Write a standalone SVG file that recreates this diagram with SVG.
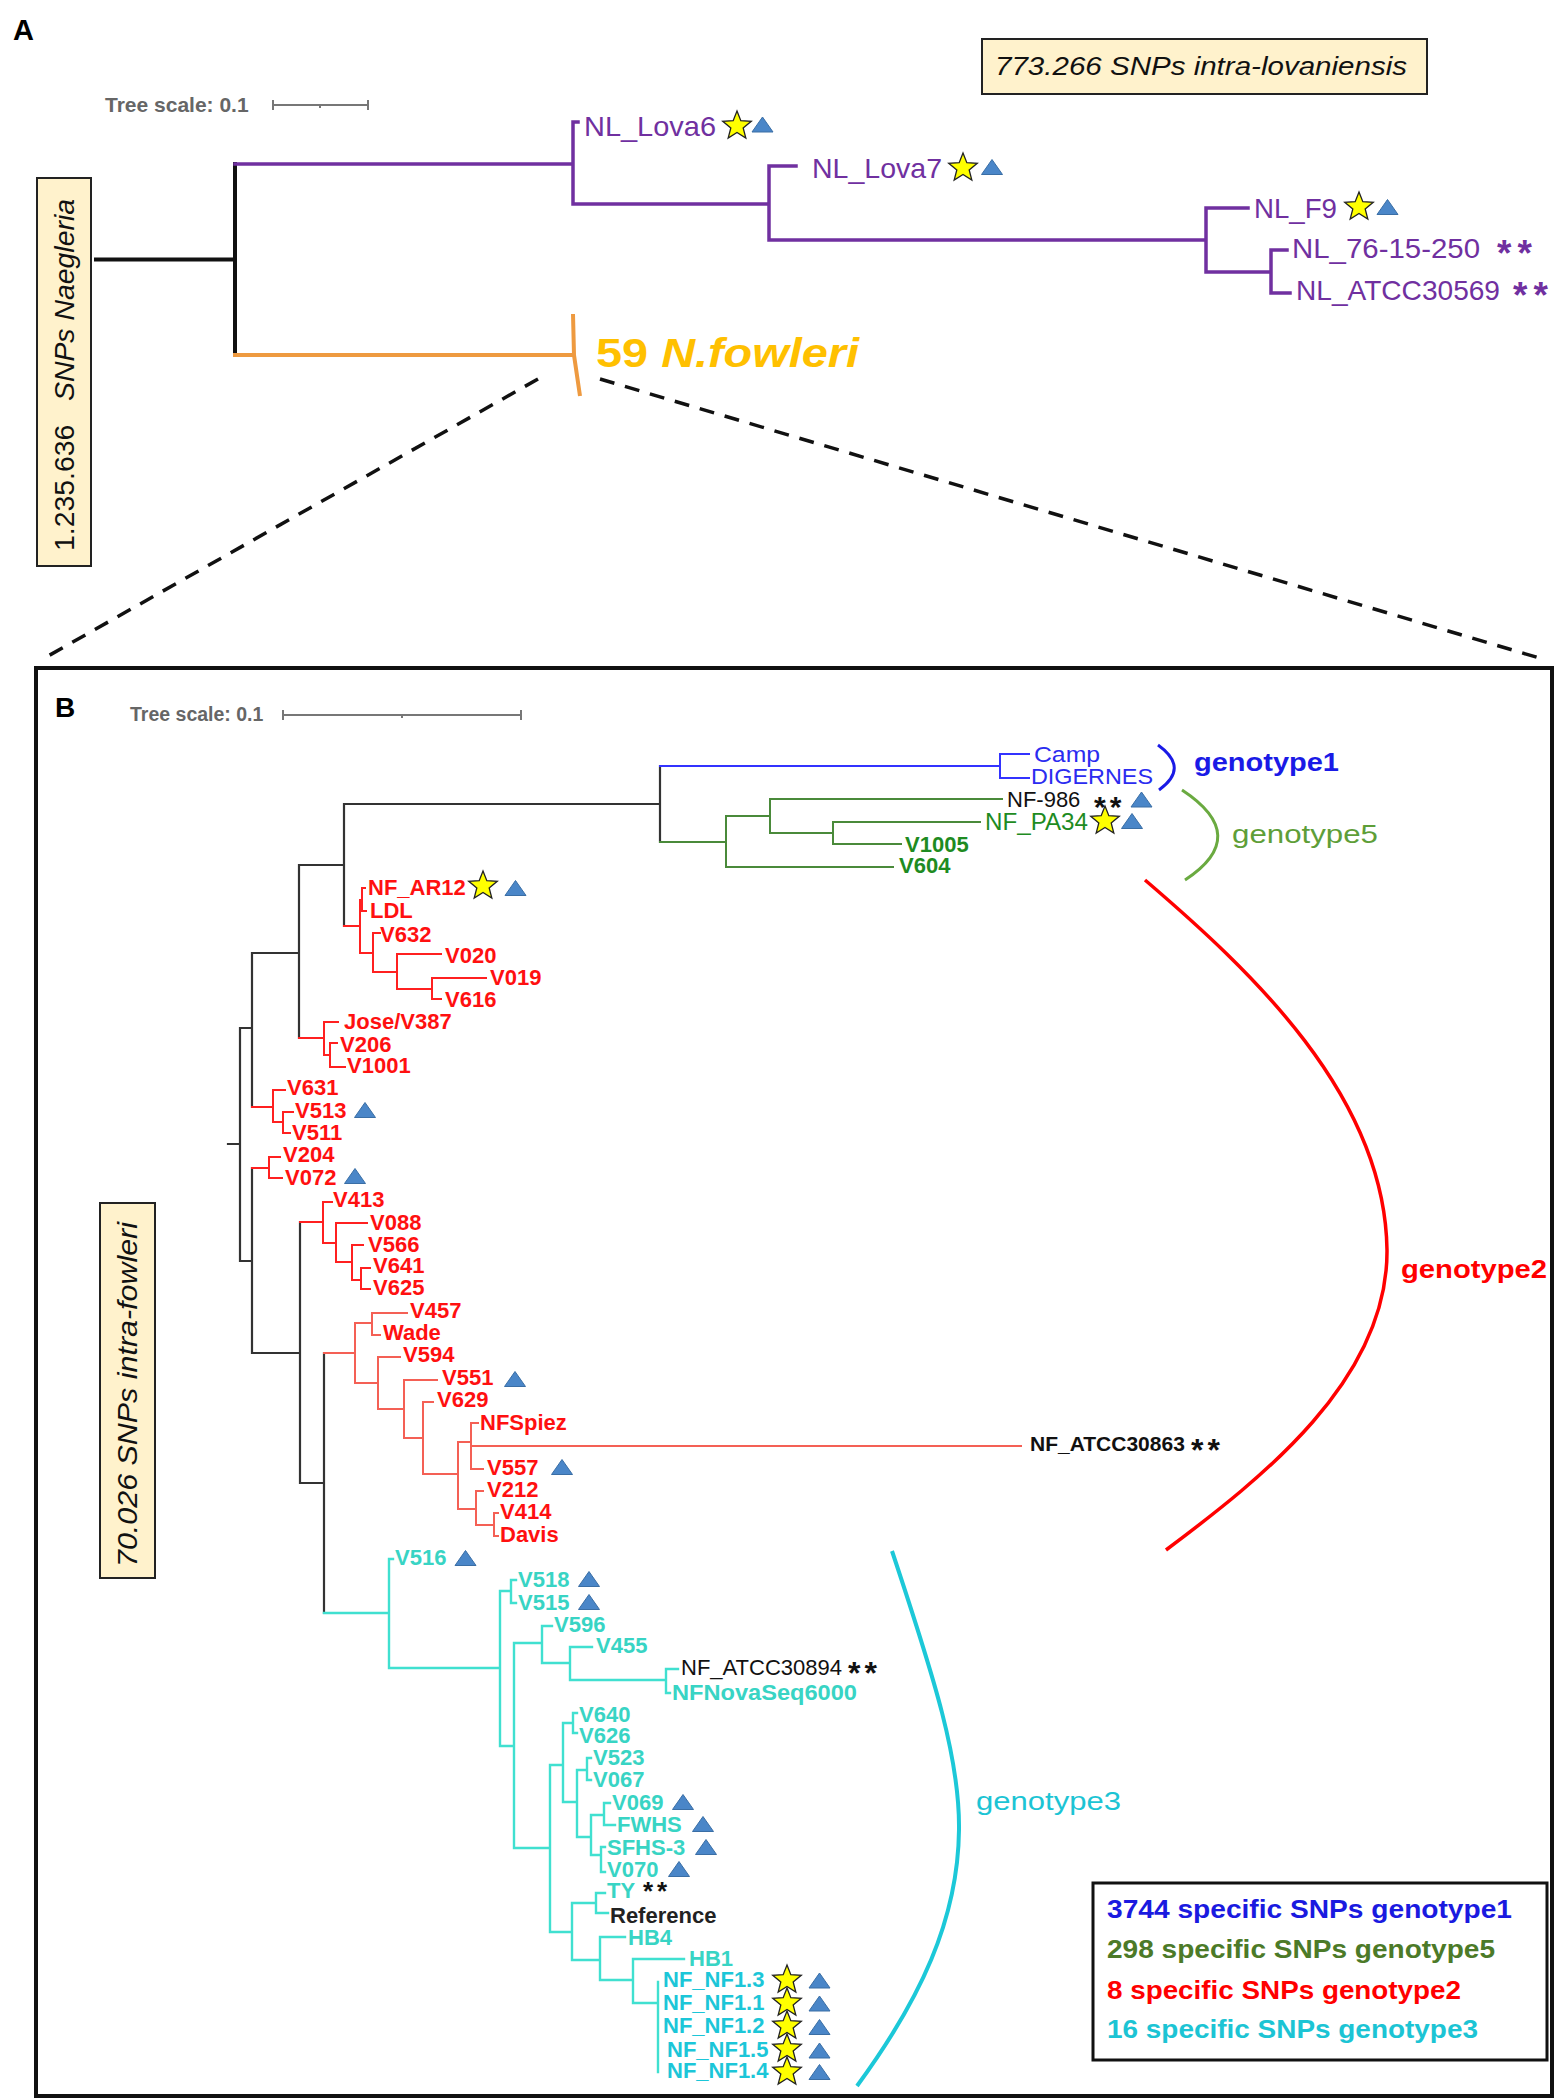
<svg xmlns="http://www.w3.org/2000/svg" xmlns:xlink="http://www.w3.org/1999/xlink" width="1562" height="2100" viewBox="0 0 1562 2100">
<defs>
<style>
text{font-family:"Liberation Sans",Arial,sans-serif}
.p{fill:none;stroke-linecap:square}
.kA{stroke:#111;stroke-width:4}
.pu{stroke:#7030A0;stroke-width:3.5}
.or{stroke:#EE9A40;stroke-width:4}
.kB{stroke:#333;stroke-width:2.2}
.rd{stroke:#FF2020;stroke-width:2}
.sa{stroke:#F46055;stroke-width:2}
.cy{stroke:#40E0D0;stroke-width:2.4}
.bl{stroke:#3333FF;stroke-width:2}
.gr{stroke:#4A8A3A;stroke-width:2}
.lA{fill:#7030A0;font-size:28px}
.lr{fill:#FF1010;font-size:22px;font-weight:bold}
.lc{fill:#38D4C4;font-size:22px;font-weight:bold}
.lc2{fill:#1CC6D8;font-size:22px;font-weight:bold}
.lk{fill:#111;font-size:22px}
.lgb{fill:#1E8B22;font-size:22px;font-weight:bold}
.lg{fill:#1E8B22;font-size:23px}
.lb{fill:#2B2BF0;font-size:22px}
.ast{font-weight:bold;letter-spacing:4px}
.scl{fill:#666;font-weight:bold}
.sbar{stroke:#777;stroke-width:2;fill:none}
.ybox{fill:#FFF2CC;stroke:#222;stroke-width:2}
.dash{stroke:#111;stroke-width:3.5;stroke-dasharray:15 11;fill:none}
</style>
<path id="star" d="M0,-15 L3.82,-5.26 L14.27,-4.64 L6.18,2.01 L8.82,12.14 L0,6.5 L-8.82,12.14 L-6.18,2.01 L-14.27,-4.64 L-3.82,-5.26 Z" fill="#FFFF00" stroke="#222" stroke-width="1.3" stroke-linejoin="miter"/>
<path id="tri" d="M-10.5,7 L0,-8 L10.5,7 Z" fill="#4A86C8" stroke="#3A6EA5" stroke-width="1"/>
</defs>
<rect x="0" y="0" width="1562" height="2100" fill="#FFFFFF"/>

<!-- ============ PANEL A ============ -->
<g id="panelA-label"><text x="13" y="40" font-size="29" font-weight="bold" fill="#000">A</text></g>
<g id="scaleA">
<text class="scl" x="105" y="112" font-size="21">Tree scale: 0.1</text>
<path class="sbar" d="M273,105 H368 M273,100 V110 M368,100 V110 M320,105 V108"/>
</g>
<g id="boxA-vertical">
<rect class="ybox" x="37" y="178" width="54" height="388"/>
<text transform="translate(74,551) rotate(-90)" font-size="27" fill="#111" textLength="352" lengthAdjust="spacingAndGlyphs">1.235.636&#160;&#160; <tspan font-style="italic">SNPs Naegleria</tspan></text>
</g>
<g id="boxA-top">
<rect class="ybox" x="982" y="39" width="445" height="55"/>
<text x="995" y="75" font-size="26" font-style="italic" fill="#111" textLength="412" lengthAdjust="spacingAndGlyphs">773.266 SNPs intra-lovaniensis</text>
</g>

<g id="connectorsA">
<path class="p kA" d="M96,259.5 H235 M235,164 V355"/>
<path class="p pu" d="M235,164 H573 M573,122 V204 M573,122 H578 M573,204 H769 M769,166 V240 M769,166 H796 M769,240 H1206 M1206,208 V272 M1206,208 H1248 M1206,272 H1271 M1271,250 V293 M1271,250 H1287 M1271,293 H1290"/>
<path class="p or" d="M235,355 H573"/>
<path d="M573,314 L574,355 L580,396" fill="none" stroke="#EE9A40" stroke-width="4"/>
<path class="dash" d="M538,379 L41,660"/>
<path class="dash" d="M600,379 L1546,660"/>
</g>

<g id="A-NL_Lova6"><text class="lA" x="584" y="136" textLength="132" lengthAdjust="spacingAndGlyphs">NL_Lova6</text><use xlink:href="#star" x="737" y="126"/><use xlink:href="#tri" x="762.5" y="125"/></g>
<g id="A-NL_Lova7"><text class="lA" x="812" y="178" textLength="130" lengthAdjust="spacingAndGlyphs">NL_Lova7</text><use xlink:href="#star" x="963" y="168"/><use xlink:href="#tri" x="992" y="167.5"/></g>
<g id="A-NL_F9"><text class="lA" x="1254" y="218" textLength="83" lengthAdjust="spacingAndGlyphs">NL_F9</text><use xlink:href="#star" x="1359" y="207"/><use xlink:href="#tri" x="1387.5" y="207.5"/></g>
<g id="A-NL_76-15-250"><text class="lA" x="1292" y="258" textLength="188" lengthAdjust="spacingAndGlyphs">NL_76-15-250</text><text x="1497" y="266" font-size="37" font-weight="bold" letter-spacing="6" fill="#7030A0">**</text></g>
<g id="A-NL_ATCC30569"><text class="lA" x="1296" y="300" textLength="204" lengthAdjust="spacingAndGlyphs">NL_ATCC30569</text><text x="1513" y="308" font-size="37" font-weight="bold" letter-spacing="6" fill="#7030A0">**</text></g>
<g id="A-fowleri"><text x="596" y="367" font-size="40" font-weight="bold" fill="#FFC000" textLength="263" lengthAdjust="spacingAndGlyphs">59 <tspan font-style="italic">N.fowleri</tspan></text></g>

<!-- ============ PANEL B ============ -->
<g id="panelB-frame"><rect x="36" y="668" width="1516" height="1428" fill="none" stroke="#111" stroke-width="4"/></g>
<g id="panelB-label"><text x="55" y="717" font-size="28" font-weight="bold" fill="#000">B</text></g>
<g id="scaleB">
<text class="scl" x="130" y="721" font-size="19.5">Tree scale: 0.1</text>
<path class="sbar" d="M283,715 H521 M283,710 V720 M521,710 V720 M402,715 V718"/>
</g>
<g id="boxB-vertical">
<rect class="ybox" x="100" y="1203" width="55" height="375"/>
<text transform="translate(137,1567) rotate(-90)" font-size="27" font-style="italic" fill="#111" textLength="345" lengthAdjust="spacingAndGlyphs">70.026 SNPs intra-fowleri</text>
</g>

<g id="connectorsB">
<path class="p kB" d="M228,1144 H240 M240,1028 V1261 M240,1028 H252 M252,953 V1107 M240,1261 H252 M252,1168 V1353 M252,953 H299 M299,865 V1038 M299,865 H344 M344,804 V926 M344,804 H660 M660,766 V842 M252,1353 H300 M300,1222 V1483 M300,1483 H324 M324,1353 V1613"/>
<path class="p bl" d="M660,766 H1000 M1000,754 V778 M1000,754 H1029 M1000,778 H1029"/>
<path class="p gr" d="M660,842 H726 M726,816 V867 M726,816 H770 M770,799 V833 M770,799 H1002 M770,833 H833 M833,822 V844 M833,822 H980 M833,844 H901 M726,867 H893"/>
<path class="p rd" d="M344,926 H360 M360,900 V953 M360,900 H362 M362,888 V911 M362,888 H365 M362,911 H366 M360,953 H373 M373,933 V972 M373,933 H380 M373,972 H397 M397,954 V989 M397,954 H441 M397,989 H432 M432,978 V999 M432,978 H486 M432,999 H441 M299,1038 H324 M324,1022 V1055 M324,1022 H338 M324,1055 H330 M330,1043 V1067 M330,1043 H337 M330,1067 H345 M252,1107 H273 M273,1090 V1122 M273,1090 H285 M273,1122 H283 M283,1112 V1133 M283,1112 H293 M283,1133 H290 M252,1168 H269 M269,1157 V1178 M269,1157 H280 M269,1178 H282 M300,1222 H323 M323,1202 V1243 M323,1202 H332 M323,1243 H336 M336,1223 V1262 M336,1223 H367 M336,1262 H352 M352,1245 V1280 M352,1245 H363 M352,1280 H361 M361,1268 V1289 M361,1268 H370 M361,1289 H370"/>
<path class="p sa" d="M324,1353 H355 M355,1323 V1383 M355,1323 H372 M372,1313 V1335 M372,1313 H407 M372,1335 H380 M355,1383 H378 M378,1357 V1409 M378,1357 H400 M378,1409 H404 M404,1380 V1438 M404,1380 H437 M404,1438 H423 M423,1402 V1474 M423,1402 H433 M423,1474 H458 M458,1442 V1509 M458,1442 H471 M471,1423 V1469 M471,1423 H478 M471,1446 H1021 M471,1469 H483 M458,1509 H476 M476,1491 V1525 M476,1491 H483 M476,1525 H494 M494,1513 V1536 M494,1513 H498 M494,1536 H498"/>
<path class="p cy" d="M324,1613 H389 M389,1559 V1668 M389,1559 H393 M389,1668 H500 M500,1591 V1746 M500,1591 H511 M511,1580 V1603 M511,1580 H516 M511,1603 H516 M500,1746 H514 M514,1643 V1848 M514,1643 H542 M542,1626 V1663 M542,1626 H552 M542,1663 H570 M570,1647 V1680 M570,1647 H592 M570,1680 H666 M666,1669 V1693 M666,1669 H678 M666,1693 H670 M514,1848 H550 M550,1765 V1932 M550,1765 H563 M563,1723 V1802 M563,1723 H573 M573,1713 V1733 M573,1713 H577 M573,1733 H577 M563,1802 H577 M577,1770 V1837 M577,1770 H587 M587,1758 V1780 M587,1758 H591 M587,1780 H591 M577,1837 H591 M591,1815 V1855 M591,1815 H604 M604,1803 V1825 M604,1803 H610 M604,1825 H615 M591,1855 H601 M601,1847 V1872 M601,1847 H605 M601,1872 H605 M550,1932 H572 M572,1903 V1960 M572,1903 H596 M596,1893 V1913 M596,1893 H605 M596,1913 H608 M572,1960 H600 M600,1937 V1980 M600,1937 H625 M600,1980 H633 M633,1959 V2003 M633,1959 H684 M633,2003 H658 M658,1982 V2072"/>
<path d="M1158,745 Q1190,768 1159,790" fill="none" stroke="#1A1AE6" stroke-width="3"/>
<path d="M1182,790 Q1252,836 1185,880" fill="none" stroke="#6AAA40" stroke-width="3"/>
<path d="M1145,880 C1250,970 1385,1095 1387,1250 C1388,1380 1262,1478 1166,1550" fill="none" stroke="#FF0000" stroke-width="3.5"/>
<path d="M892,1551 C935,1680 960,1760 959,1830 C958,1920 920,2000 857,2086" fill="none" stroke="#1CC8D8" stroke-width="4"/>
</g>

<g id="g-genotype1"><text x="1194" y="771" font-size="25" font-weight="bold" fill="#1A1AE6" textLength="145" lengthAdjust="spacingAndGlyphs">genotype1</text></g>
<g id="g-genotype5"><text x="1232" y="843" font-size="25" fill="#5E9E38" textLength="146" lengthAdjust="spacingAndGlyphs">genotype5</text></g>
<g id="g-genotype2"><text x="1401" y="1278" font-size="25" font-weight="bold" fill="#FF0000" textLength="146" lengthAdjust="spacingAndGlyphs">genotype2</text></g>
<g id="g-genotype3"><text x="976" y="1810" font-size="25" fill="#1CC4D4" textLength="145" lengthAdjust="spacingAndGlyphs">genotype3</text></g>

<g id="n-Camp"><text class="lb" x="1034" y="762" textLength="66" lengthAdjust="spacingAndGlyphs">Camp</text></g>
<g id="n-DIGERNES"><text class="lb" x="1031" y="784" textLength="122" lengthAdjust="spacingAndGlyphs">DIGERNES</text></g>
<g id="n-NF-986"><text class="lk" x="1007" y="807">NF-986<tspan class="ast" x="1094" y="817" font-size="30">**</tspan></text><use xlink:href="#tri" x="1141.5" y="800"/></g>
<g id="n-NF_PA34"><text class="lg" x="985" y="830" textLength="103" lengthAdjust="spacingAndGlyphs">NF_PA34</text><use xlink:href="#star" x="1105" y="821"/><use xlink:href="#tri" x="1132" y="821.5"/></g>
<g id="n-V1005"><text class="lgb" x="905" y="852">V1005</text></g>
<g id="n-V604"><text class="lgb" x="899" y="873">V604</text></g>

<g id="n-NF_AR12"><text class="lr" x="368" y="895">NF_AR12</text><use xlink:href="#star" x="483" y="886"/><use xlink:href="#tri" x="515.5" y="888.5"/></g>
<g id="n-LDL"><text class="lr" x="370" y="918">LDL</text></g>
<g id="n-V632"><text class="lr" x="380" y="942">V632</text></g>
<g id="n-V020"><text class="lr" x="445" y="963">V020</text></g>
<g id="n-V019"><text class="lr" x="490" y="985">V019</text></g>
<g id="n-V616"><text class="lr" x="445" y="1007">V616</text></g>
<g id="n-Jose"><text class="lr" x="344" y="1029">Jose/V387</text></g>
<g id="n-V206"><text class="lr" x="340" y="1052">V206</text></g>
<g id="n-V1001"><text class="lr" x="347" y="1073">V1001</text></g>
<g id="n-V631"><text class="lr" x="287" y="1095">V631</text></g>
<g id="n-V513"><text class="lr" x="295" y="1118">V513</text><use xlink:href="#tri" x="365" y="1110.5"/></g>
<g id="n-V511"><text class="lr" x="292" y="1140">V511</text></g>
<g id="n-V204"><text class="lr" x="283" y="1162">V204</text></g>
<g id="n-V072"><text class="lr" x="285" y="1185">V072</text><use xlink:href="#tri" x="355" y="1176.5"/></g>
<g id="n-V413"><text class="lr" x="333" y="1207">V413</text></g>
<g id="n-V088"><text class="lr" x="370" y="1230">V088</text></g>
<g id="n-V566"><text class="lr" x="368" y="1252">V566</text></g>
<g id="n-V641"><text class="lr" x="373" y="1273">V641</text></g>
<g id="n-V625"><text class="lr" x="373" y="1295">V625</text></g>
<g id="n-V457"><text class="lr" x="410" y="1318">V457</text></g>
<g id="n-Wade"><text class="lr" x="383" y="1340">Wade</text></g>
<g id="n-V594"><text class="lr" x="403" y="1362">V594</text></g>
<g id="n-V551"><text class="lr" x="442" y="1385">V551</text><use xlink:href="#tri" x="515" y="1379.5"/></g>
<g id="n-V629"><text class="lr" x="437" y="1407">V629</text></g>
<g id="n-NFSpiez"><text class="lr" x="480" y="1430">NFSpiez</text></g>
<g id="n-NF_ATCC30863"><text x="1030" y="1451" font-size="21" font-weight="bold" fill="#111">NF_ATCC30863<tspan class="ast" x="1191" y="1461" font-size="32">**</tspan></text></g>
<g id="n-V557"><text class="lr" x="487" y="1475">V557</text><use xlink:href="#tri" x="562" y="1467.5"/></g>
<g id="n-V212"><text class="lr" x="487" y="1497">V212</text></g>
<g id="n-V414"><text class="lr" x="500" y="1519">V414</text></g>
<g id="n-Davis"><text class="lr" x="500" y="1542">Davis</text></g>

<g id="n-V516"><text class="lc" x="395" y="1565">V516</text><use xlink:href="#tri" x="465.5" y="1558.5"/></g>
<g id="n-V518"><text class="lc" x="518" y="1587">V518</text><use xlink:href="#tri" x="589" y="1579.5"/></g>
<g id="n-V515"><text class="lc" x="518" y="1610">V515</text><use xlink:href="#tri" x="589" y="1602.5"/></g>
<g id="n-V596"><text class="lc" x="554" y="1632">V596</text></g>
<g id="n-V455"><text class="lc" x="596" y="1653">V455</text></g>
<g id="n-NF_ATCC30894"><text class="lk" x="681" y="1675">NF_ATCC30894<tspan class="ast" x="848" y="1684" font-size="32">**</tspan></text></g>
<g id="n-NFNovaSeq6000"><text class="lc" x="672" y="1700" textLength="185" lengthAdjust="spacingAndGlyphs">NFNovaSeq6000</text></g>
<g id="n-V640"><text class="lc" x="579" y="1722">V640</text></g>
<g id="n-V626"><text class="lc" x="579" y="1743">V626</text></g>
<g id="n-V523"><text class="lc" x="593" y="1765">V523</text></g>
<g id="n-V067"><text class="lc" x="593" y="1787">V067</text></g>
<g id="n-V069"><text class="lc" x="612" y="1810">V069</text><use xlink:href="#tri" x="683" y="1802.5"/></g>
<g id="n-FWHS"><text class="lc" x="617" y="1832">FWHS</text><use xlink:href="#tri" x="703" y="1824.5"/></g>
<g id="n-SFHS-3"><text class="lc" x="607" y="1855">SFHS-3</text><use xlink:href="#tri" x="706" y="1847.5"/></g>
<g id="n-V070"><text class="lc" x="607" y="1877">V070</text><use xlink:href="#tri" x="679" y="1869.5"/></g>
<g id="n-TY"><text class="lc" x="607" y="1898">TY<tspan class="ast" x="643" y="1900" font-size="26" fill="#111">**</tspan></text></g>
<g id="n-Reference"><text x="610" y="1923" font-size="22" font-weight="bold" fill="#222">Reference</text></g>
<g id="n-HB4"><text class="lc" x="628" y="1945">HB4</text></g>
<g id="n-HB1"><text class="lc" x="689" y="1966">HB1</text></g>
<g id="n-NF_NF1.3"><text class="lc2" x="663" y="1987">NF_NF1.3</text><use xlink:href="#star" x="787" y="1980"/><use xlink:href="#tri" x="819.5" y="1981"/></g>
<g id="n-NF_NF1.1"><text class="lc2" x="663" y="2010">NF_NF1.1</text><use xlink:href="#star" x="787" y="2003"/><use xlink:href="#tri" x="819.5" y="2004"/></g>
<g id="n-NF_NF1.2"><text class="lc2" x="663" y="2033">NF_NF1.2</text><use xlink:href="#star" x="787" y="2026"/><use xlink:href="#tri" x="819.5" y="2027.5"/></g>
<g id="n-NF_NF1.5"><text class="lc2" x="667" y="2057">NF_NF1.5</text><use xlink:href="#star" x="787" y="2049"/><use xlink:href="#tri" x="819.5" y="2051"/></g>
<g id="n-NF_NF1.4"><text class="lc2" x="667" y="2078">NF_NF1.4</text><use xlink:href="#star" x="787" y="2072"/><use xlink:href="#tri" x="819.5" y="2072.5"/></g>

<g id="legend">
<rect x="1093" y="1883" width="454" height="177" fill="#FFFFFF" stroke="#111" stroke-width="3"/>
<text x="1107" y="1918" font-size="25" font-weight="bold" fill="#1A1AE0" textLength="405" lengthAdjust="spacingAndGlyphs">3744 specific SNPs genotype1</text>
<text x="1107" y="1958" font-size="25" font-weight="bold" fill="#4C7A28" textLength="388" lengthAdjust="spacingAndGlyphs">298 specific SNPs genotype5</text>
<text x="1107" y="1999" font-size="25" font-weight="bold" fill="#FF0000" textLength="354" lengthAdjust="spacingAndGlyphs">8 specific SNPs genotype2</text>
<text x="1107" y="2038" font-size="25" font-weight="bold" fill="#1CC4D4" textLength="371" lengthAdjust="spacingAndGlyphs">16 specific SNPs genotype3</text>
</g>
</svg>
